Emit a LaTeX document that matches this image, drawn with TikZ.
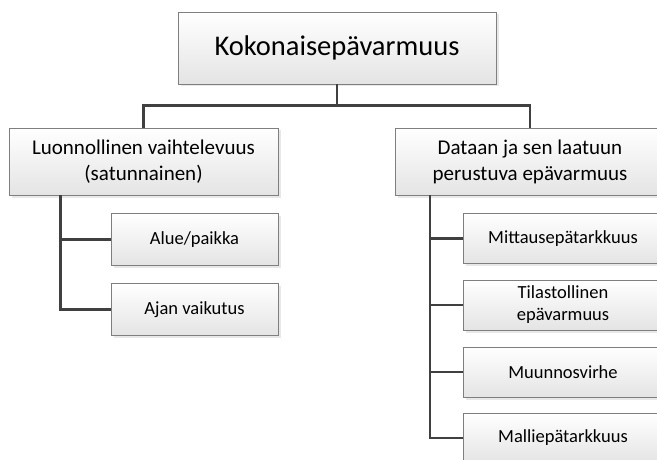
\documentclass[tikz,border=0pt]{standalone}
\usepackage{fontspec}
\setmainfont{Carlito}
\usetikzlibrary{calc}
\definecolor{boxline}{HTML}{7F7F7F}
\definecolor{conn}{HTML}{404040}
\definecolor{boxbot}{HTML}{E4E4E4}
\tikzset{
  box/.style={draw=boxline, line width=0.9pt, top color=white, bottom color=boxbot,
    align=center, inner sep=2pt, text=black,
    preaction={draw=none, fill=black!9, transform canvas={xshift=2.5pt,yshift=-2.5pt}}},
  topbox/.style={box, minimum width=318pt, minimum height=72pt, font=\fontsize{28.5}{34}\selectfont},
  midbox/.style={box, minimum width=269pt, minimum height=67pt, font=\fontsize{21}{26}\selectfont},
  leafbox/.style={box, minimum height=52pt, font=\fontsize{18.5}{22}\selectfont},
  conn/.style={draw=conn, line width=2.2pt}
}
\begin{document}
\begin{tikzpicture}[x=1pt,y=1pt]
\useasboundingbox (0,0) rectangle (657,459);
\node[topbox] (top) at (337,411) {Kokonaisepävarmuus};
\node[midbox] (left) at (143.5,297.5) {Luonnollinen vaihtelevuus\\(satunnainen)};
\node[midbox] (right) at (530,297.5) {Dataan ja sen laatuun\\perustuva epävarmuus};
\node[leafbox, minimum width=167pt] (alue) at (194.5,219.5) {Alue/paikka};
\node[leafbox, minimum width=167pt] (ajan) at (194.5,149.5) {Ajan vaikutus};
\node[leafbox, minimum width=200pt, minimum height=50pt] (mitt) at (563,220.5) {Mittausepätarkkuus};
\node[leafbox, minimum width=200pt, minimum height=50pt] (tila) at (563,154) {Tilastollinen\\epävarmuus};
\node[leafbox, minimum width=200pt, minimum height=50pt] (muun) at (563,87) {Muunnosvirhe};
\node[leafbox, minimum width=200pt, minimum height=50pt] (mall) at (563,21) {Malliepätarkkuus};
\draw[conn] (top.south) -- ++(0,-21) -| (left.north);
\draw[conn] (top.south) -- ++(0,-21) -| (right.north);
\draw[conn] (left.south west) ++(52,0) |- (alue.west);
\draw[conn] (left.south west) ++(52,0) |- (ajan.west);
\draw[conn] (right.south west) ++(35,0) |- (mitt.west);
\draw[conn] (right.south west) ++(35,0) |- (tila.west);
\draw[conn] (right.south west) ++(35,0) |- (muun.west);
\draw[conn] (right.south west) ++(35,0) |- (mall.west);
\end{tikzpicture}
\end{document}
